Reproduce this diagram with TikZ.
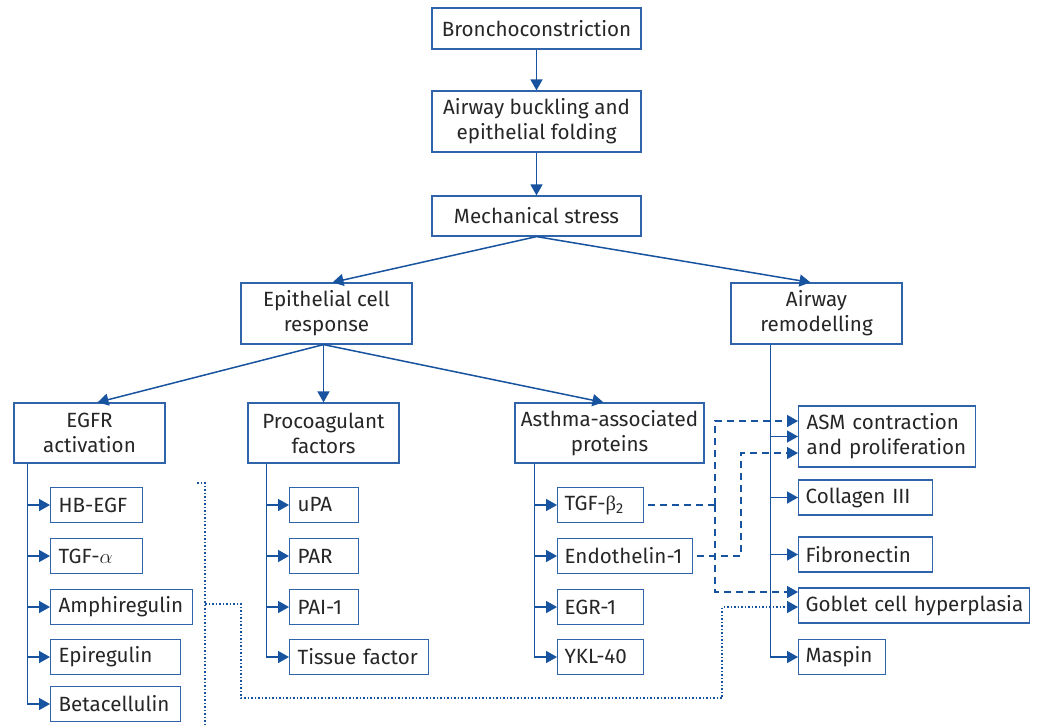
\documentclass[tikz,border=0pt]{standalone}
\usepackage{fontspec}
\setmainfont{Fira Sans}
\newfontfamily\greekfont{Liberation Serif}
\usetikzlibrary{arrows.meta}

\begin{document}
\begin{tikzpicture}[x=1pt, y=-1pt, >={Triangle[length=11pt, width=12pt]},
  box/.style={draw=boxblue, line width=1.2pt, text=ink, inner sep=0pt,
    font=\fontsize{20.6}{25}\selectfont, align=center},
  leaf/.style={box, anchor=west, minimum height=35pt, inner xsep=8pt, align=left},
  link/.style={draw=linkblue, line width=1.5pt, ->},
  dashlink/.style={draw=linkblue, line width=1.5pt, dash pattern=on 7pt off 5pt},
  dotlink/.style={draw=linkblue, line width=1.5pt, dash pattern=on 1.5pt off 2pt}]

\definecolor{boxblue}{RGB}{47,100,170}
\definecolor{linkblue}{RGB}{23,83,158}
\definecolor{ink}{RGB}{38,38,38}

\useasboundingbox (0,0) rectangle (1038,724);

% main chain
\node[box, minimum width=209pt, minimum height=41pt] (bron) at (536.5,28.5) {Bronchoconstriction};
\node[box, minimum width=209pt, minimum height=61pt] (buck) at (536.5,121.5) {Airway buckling and\\epithelial folding};
\node[box, minimum width=209pt, minimum height=40pt] (mech) at (536.5,216) {Mechanical stress};
\node[box, minimum width=171pt, minimum height=61pt] (epi) at (326.5,313.5) {Epithelial cell\\response};
\node[box, minimum width=171pt, minimum height=61pt] (remod) at (816.5,313.5) {Airway\\remodelling};
\node[box, minimum width=151pt, minimum height=60pt] (egfr) at (89.5,433) {EGFR\\activation};
\node[box, minimum width=151pt, minimum height=60pt] (proco) at (323.5,433) {Procoagulant\\factors};
\node[box, minimum width=189pt, minimum height=60pt] (asthma) at (609.5,433) {Asthma-associated\\proteins};

\draw[link] (bron) -- (buck);
\draw[link] (buck) -- (mech);
\draw[link] (mech.south) -- ([xshift=6pt]epi.north);
\draw[link] (mech.south) -- ([xshift=-6pt]remod.north);

\coordinate (epib) at (epi.south -| proco.north);
\draw[link] (epib) -- ([xshift=8pt]egfr.north);
\draw[link] (epib) -- (proco.north);
\draw[link] (epib) -- ([xshift=-6pt]asthma.north);

% leaves
\foreach \n/\y/\w/\t in {hbegf/505/76/HB-EGF, tgfa/556/76/{TGF-$\alpha$},
    amph/607/126/Amphiregulin, epireg/657/114/Epiregulin, beta/704/114/Betacellulin}
  \node[leaf, text width=\w pt] (\n) at (50,\y) {\mbox{\t}};
\foreach \n/\y/\w/\t in {upa/505/53/uPA, par/556/53/PAR, pai/607/53/PAI-1,
    tf/657/123/Tissue factor}
  \node[leaf, text width=\w pt] (\n) at (289,\y) {\mbox{\t}};
\foreach \n/\y/\w/\t in {tgfb/505/72/{TGF-{\greekfont β}\textsubscript{2}}, endo/556/121/Endothelin-1,
    egr/607/72/EGR-1, ykl/657/72/YKL-40}
  \node[leaf, text width=\w pt, inner xsep=7pt] (\n) at (557,\y) {\mbox{\t}};
\node[leaf, text width=161pt, minimum height=61pt] (asm) at (798,436.5) {ASM contraction\\and proliferation};
\foreach \n/\y/\w/\t in {coll/497.5/120/Collagen III, fibro/554.5/120/Fibronectin,
    goblet/605.5/217/Goblet cell hyperplasia, maspin/657/73/Maspin}
  \node[leaf, text width=\w pt, inner xsep=7pt] (\n) at (798,\y) {\mbox{\t}};

\coordinate (egfrtrunk) at ([xshift=14pt]egfr.south west);
\coordinate (procotrunk) at ([xshift=19pt]proco.south west);
\coordinate (asthmatrunk) at ([xshift=20pt]asthma.south west);
\coordinate (remtrunk) at ([xshift=40pt]remod.south west);

\foreach \n in {hbegf,tgfa,amph,epireg,beta}
  \draw[link] (egfrtrunk) |- (\n.west);
\foreach \n in {upa,par,pai,tf}
  \draw[link] (procotrunk) |- (\n.west);
\foreach \n in {tgfb,endo,egr,ykl}
  \draw[link] (asthmatrunk) |- (\n.west);
\foreach \n in {asm,coll,fibro,maspin}
  \draw[link] (remtrunk) |- (\n.west);

% dashed links
\coordinate (tgfbbend) at (715,505);
\coordinate (endobend) at (741,556);
\draw[dashlink, shorten <=4pt] (tgfb.east) -- (tgfbbend);
\draw[dashlink, ->] (tgfbbend) |- ([yshift=15.5pt]asm.west);
\draw[dashlink, ->] (tgfbbend) |- ([yshift=13.5pt]goblet.west);
\draw[dashlink, ->, shorten <=4pt] (endo.east) -- (endobend) |- ([yshift=-16.5pt]asm.west);

% dotted bracket
\coordinate (brtop) at (205,483);
\coordinate (brbot) at (205,730);
\coordinate (brmid) at (205,604);
\coordinate (brlow) at (241,698);
\coordinate (brup) at (722,607);
\draw[dotlink] ([xshift=-8pt]brtop) -- (brtop) -- (brbot);
\draw[dotlink, ->] (brmid) -| (brlow) -| (brup) -- ([yshift=-1.5pt]goblet.west);

\end{tikzpicture}
\end{document}
